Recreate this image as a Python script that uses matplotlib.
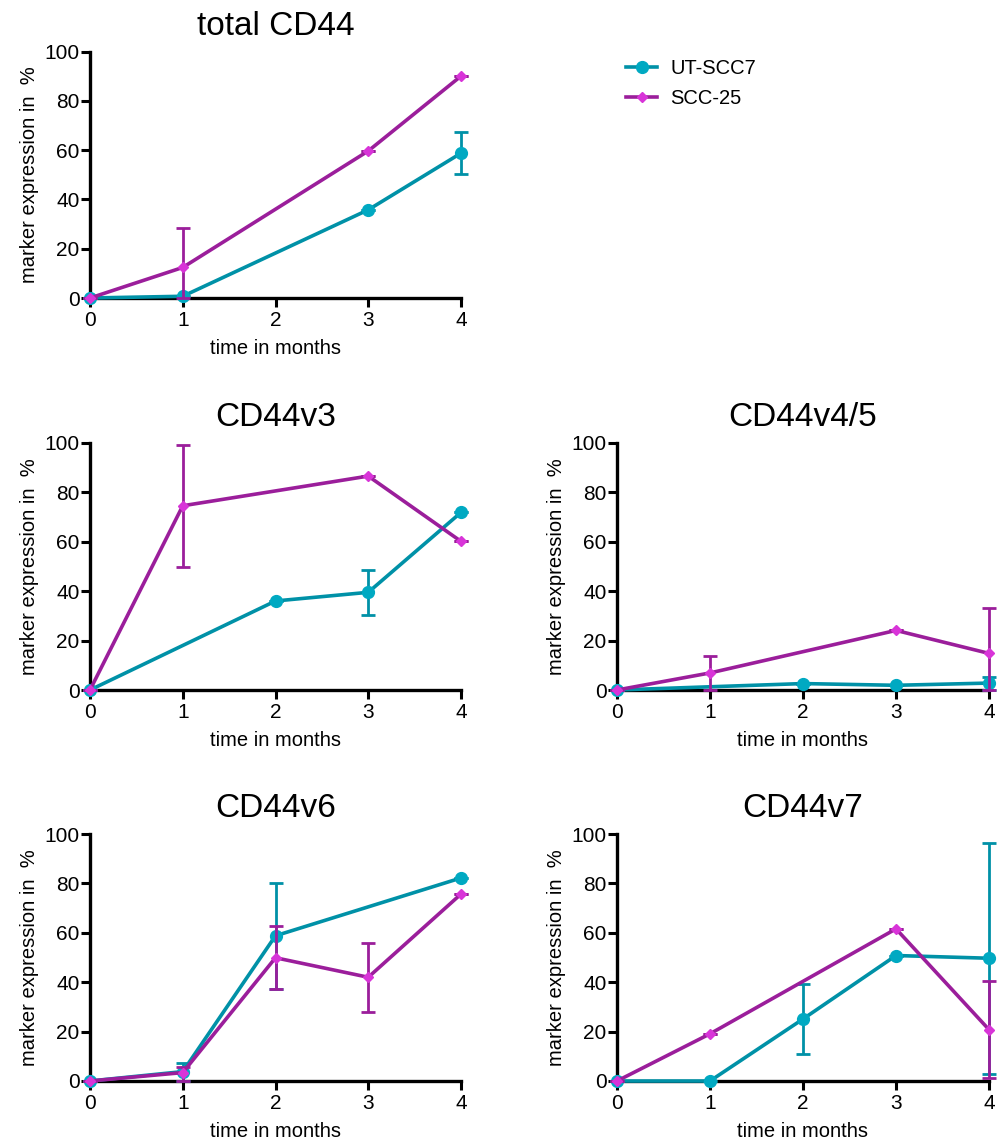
import matplotlib
matplotlib.use("Agg")
import matplotlib.pyplot as plt
import numpy as np

plt.rcParams['font.family'] = ['Liberation Sans', 'DejaVu Sans']

# panel titles
titles = ["total CD44", "CD44v3", "CD44v4/5", "CD44v6", "CD44v7"]
series_names = ["UT-SCC7", "SCC-25"]

# UT-SCC7 (x, mean, error low, error high)
ut_x = [[0, 1, 3, 4], [0, 2, 3, 4], [0, 2, 3, 4], [0, 1, 2, 4], [0, 1, 2, 3, 4]]
ut_y = [[0, 0.7, 35.8, 58.8], [0, 36, 39.5, 71.8], [0, 2.6, 1.9, 2.8],
        [0, 3.8, 58.8, 82.2], [0, 0, 25.1, 50.8, 49.7]]
ut_lo = [[0, 0, 0, 8.5], [0, 0, 9, 0], [0, 0, 0, 2.6],
         [0, 3.6, 21.5, 0], [0, 0, 14, 0, 46.7]]
ut_hi = [[0, 0, 0, 8.5], [0, 0, 9, 0], [0, 0, 0, 2.6],
         [0, 3.6, 21.5, 0], [0, 0, 14, 0, 46.7]]

# SCC-25
scc_x = [[0, 1, 3, 4], [0, 1, 3, 4], [0, 1, 3, 4], [0, 1, 2, 3, 4], [0, 1, 3, 4]]
scc_y = [[0, 12.4, 59.7, 90.1], [0, 74.5, 86.5, 60.1], [0, 6.9, 24.1, 14.8],
         [0, 3.4, 49.9, 42, 75.7], [0, 19.1, 61.6, 20.8]]
scc_lo = [[0, 12.4, 0, 0], [0, 24.6, 0, 0], [0, 6.9, 0, 14.8],
          [0, 3.4, 12.8, 14, 0], [0, 0, 0, 19.6]]
scc_hi = [[0, 16.2, 0, 0], [0, 24.6, 0, 0], [0, 7.0, 0, 18.4],
          [0, 2.4, 12.8, 14, 0], [0, 0, 0, 19.6]]

ut_line, ut_mark = "#0091a7", "#00a9c2"
scc_line, scc_mark = "#9b1e9b", "#d834d8"

W, H = 1003, 1138
fig = plt.figure(figsize=(W / 100, H / 100), dpi=100)

# axes boxes in pixels: left, top, right, bottom
boxes = [(90, 51.7, 461, 298), (90, 442.7, 461, 690), (617, 442.7, 989, 690),
         (90, 834, 461, 1081), (617, 834, 989, 1081)]

lines = []
for i, (l, t, r, b) in enumerate(boxes):
    ax = fig.add_axes([l / W, 1 - b / H, (r - l) / W, (b - t) / H])
    sets = [(ut_x, ut_y, ut_lo, ut_hi, ut_line, ut_mark, 'o', 8.5),
            (scc_x, scc_y, scc_lo, scc_hi, scc_line, scc_mark, 'D', 5.5)]
    for k, (xs, ys, lo, hi, lc, mc, m, ms) in enumerate(sets):
        x = np.array(xs[i]); y = np.array(ys[i])
        err = np.array([lo[i], hi[i]])
        ax.errorbar(x, y, yerr=err, fmt='none', ecolor=lc, elinewidth=2,
                    capsize=5, capthick=2, clip_on=False, zorder=3 + k)
        ln, = ax.plot(x, y, color=lc, lw=2.6, marker=m, ms=ms, mfc=mc, mec=mc,
                      clip_on=False, zorder=3 + k, label=series_names[k])
        if i == 0:
            lines.append(ln)
    ax.set_xlim(0, 4)
    ax.set_ylim(0, 100)
    ax.set_xticks([0, 1, 2, 3, 4])
    ax.set_yticks([0, 20, 40, 60, 80, 100])
    for s in ['top', 'right']:
        ax.spines[s].set_visible(False)
    for s in ['left', 'bottom']:
        ax.spines[s].set_linewidth(2.4)
        ax.spines[s].set_zorder(2)
    ax.tick_params(direction='out', length=6.5, width=2.2, labelsize=15)
    ax.tick_params(axis='x', pad=3)
    ax.tick_params(axis='y', pad=1)
    ax.set_title(titles[i], fontsize=24, pad=12)
    ax.set_xlabel("time in months", fontsize=14.5, labelpad=6)
    ax.set_ylabel("marker expression in  %", fontsize=14.5, labelpad=4)

fig.legend(handles=lines, loc='upper left', bbox_to_anchor=(626 / W, 1 - 59 / H),
           frameon=False, fontsize=14.5, handlelength=1.55, handletextpad=0.65,
           labelspacing=0.55, borderpad=0, borderaxespad=0)

fig.savefig("out.png", dpi=100)
